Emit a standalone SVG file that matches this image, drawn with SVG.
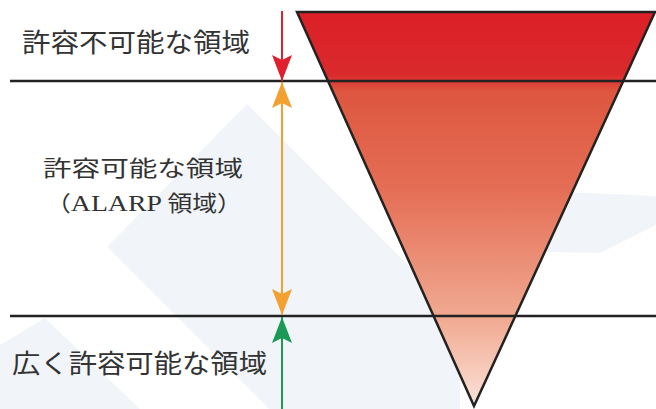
<svg xmlns="http://www.w3.org/2000/svg" width="656" height="409" viewBox="0 0 656 409">
  <style>
    .lbl { font-family: "Noto Sans CJK JP", "Noto Sans", sans-serif; fill: #333; }
    .lat { font-family: "Liberation Serif", serif; }
    .hline { stroke: #222; stroke-width: 2.5; }
    .wm { fill: #dde8f3; opacity: 0.42; }
  </style>
  <defs>
    <linearGradient id="tri" x1="0" y1="12" x2="0" y2="406" gradientUnits="userSpaceOnUse">
      <stop offset="0" stop-color="#dc1f28"/>
      <stop offset="0.16" stop-color="#da2a2c"/>
      <stop offset="0.2" stop-color="#de563f"/>
      <stop offset="0.45" stop-color="#e46e55"/>
      <stop offset="0.78" stop-color="#f1aa92"/>
      <stop offset="1" stop-color="#fbe2d8"/>
    </linearGradient>
    <marker id="ahRed" markerUnits="userSpaceOnUse" markerWidth="26" markerHeight="20" viewBox="0 0 26 20" refX="26" refY="10" orient="auto-start-reverse">
      <path d="M0,0 L26,10 L0,20 L5,10 z" fill="#e0202e"/>
    </marker>
    <marker id="ahOrange" markerUnits="userSpaceOnUse" markerWidth="26" markerHeight="20" viewBox="0 0 26 20" refX="26" refY="10" orient="auto-start-reverse">
      <path d="M0,0 L26,10 L0,20 L5,10 z" fill="#f2a030"/>
    </marker>
    <marker id="ahGreen" markerUnits="userSpaceOnUse" markerWidth="26" markerHeight="20" viewBox="0 0 26 20" refX="26" refY="10" orient="auto-start-reverse">
      <path d="M0,0 L26,10 L0,20 L5,10 z" fill="#1a9a55"/>
    </marker>
  </defs>

  <rect width="656" height="409" fill="#ffffff"/>

  <!-- faint background watermark -->
  <g id="watermark">
    <polygon class="wm" points="247,104 460,317 460,409 269,409 107,247"/>
    <polygon class="wm" points="0,345 45,318 140,409 0,409"/>
    <polygon class="wm" points="515,190 656,196 656,225 600,253 545,252"/>
  </g>

  <g id="triangle">
    <polygon points="297,12 655,12 474,406" fill="url(#tri)" stroke="#222" stroke-width="2.5" stroke-linejoin="miter"/>
  </g>

  <g id="boundaries">
    <line class="hline" x1="10" y1="81" x2="656" y2="81"/>
    <line class="hline" x1="10" y1="316" x2="656" y2="316"/>
  </g>

  <g id="connectors">
    <line x1="282" y1="11" x2="282" y2="81" stroke="#e0202e" stroke-width="2" marker-end="url(#ahRed)"/>
    <line x1="282" y1="82" x2="282" y2="315" stroke="#f2a030" stroke-width="2" marker-start="url(#ahOrange)" marker-end="url(#ahOrange)"/>
    <line x1="282" y1="409" x2="282" y2="317" stroke="#1a9a55" stroke-width="2" marker-end="url(#ahGreen)"/>
  </g>

  <g id="label-unacceptable">
    <text class="lbl" x="22" y="52" font-size="26" textLength="228" lengthAdjust="spacingAndGlyphs">許容不可能な領域</text>
  </g>
  <g id="label-alarp">
    <text class="lbl" x="43" y="175.5" font-size="21.5" textLength="200" lengthAdjust="spacingAndGlyphs">許容可能な領域</text>
    <text class="lbl" x="46" y="211" font-size="21.5" textLength="196" lengthAdjust="spacingAndGlyphs">（<tspan class="lat" font-size="24">ALARP</tspan> 領域）</text>
  </g>
  <g id="label-broadly">
    <text class="lbl" x="12" y="373" font-size="26" textLength="255" lengthAdjust="spacingAndGlyphs">広く許容可能な領域</text>
  </g>
</svg>
